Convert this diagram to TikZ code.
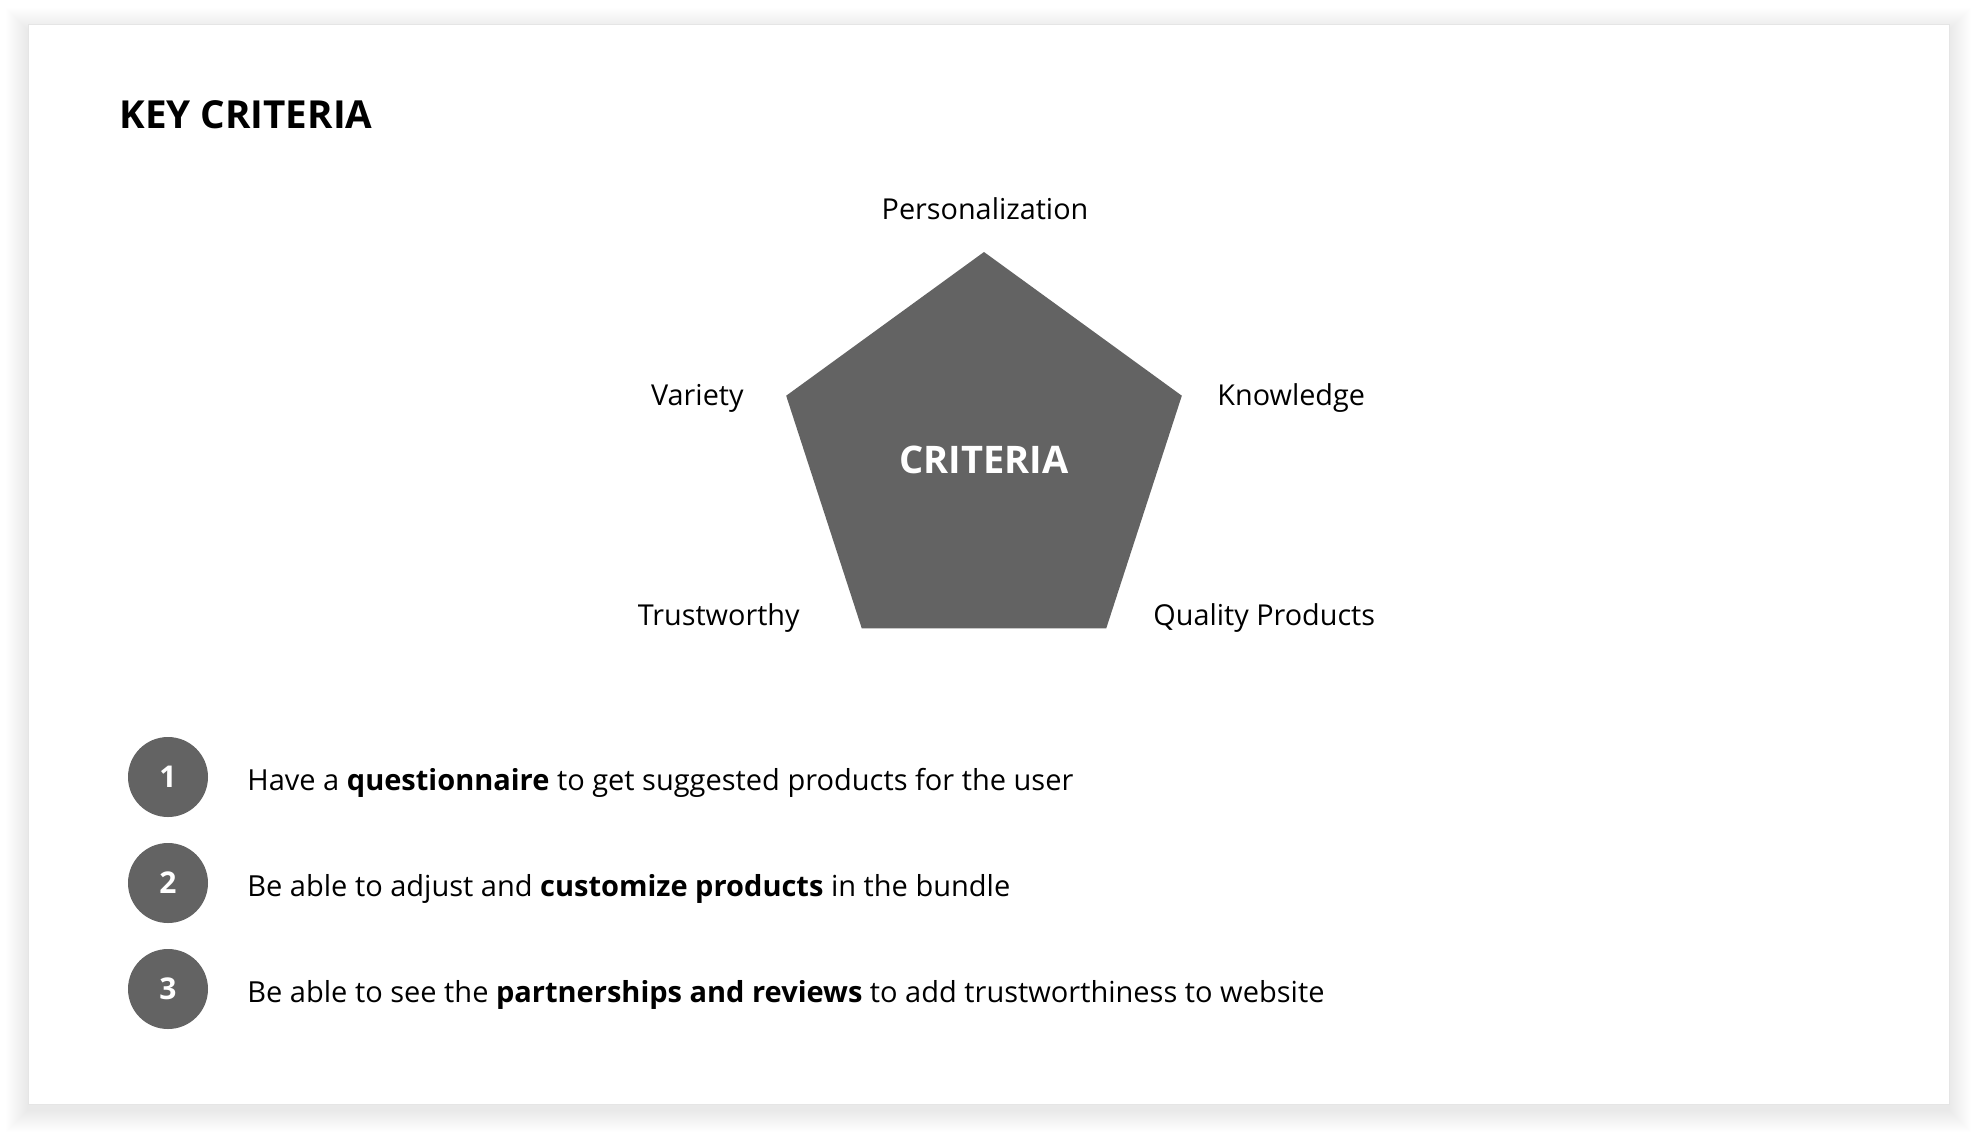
\documentclass[tikz,border=0pt]{standalone}
\usepackage{fontspec}
\setmainfont{Open Sans}
\tikzset{>=latex}
\usetikzlibrary{positioning,shapes.geometric}
\definecolor{critgray}{RGB}{99,99,99}
\tikzset{
  lbl/.style={inner sep=0pt, font=\fontsize{14.4}{16}\selectfont},
  num/.style={circle, fill=critgray, minimum size=40pt, inner sep=0pt, text=white, font=\fontsize{15}{18}\selectfont\bfseries},
  item/.style={anchor=base west, inner sep=0pt, font=\fontsize{14.5}{17}\selectfont},
}

\begin{document}
\begin{tikzpicture}[x=0.5pt,y=-0.5pt]
      \useasboundingbox (0,0) rectangle (1977,1137);
      % soft shadow of the card
      \foreach \i in {1,...,22}
        \fill[black, opacity=0.004] (28-\i,24-\i+6) rectangle (1949+\i,1104+\i+6);
      \draw[draw=black!10, fill=white] (28,24) rectangle (1949,1104);
      \node[anchor=base west, inner sep=0pt, font=\fontsize{19.3}{21}\selectfont\bfseries] (title) at (119,128) {KEY CRITERIA};
      \node[regular polygon, regular polygon sides=5, minimum size=208pt, inner sep=0pt, fill=critgray, text=white, font=\fontsize{19}{21}\selectfont\bfseries] (crit) at (984,460) {CRITERIA};
      \node[lbl, anchor=base] (n1) at (985,219) {Personalization};
      \node[lbl, anchor=base east] (n2) at (744,405) {Variety};
      \node[lbl, anchor=base east] (n3) at (800,625) {Trustworthy};
      \node[lbl, anchor=base west] (n4) at (1153,625) {Quality Products};
      \node[lbl, anchor=base west] (n5) at (1217,405) {Knowledge};
      \node[num] (c1) at (168,777) {1};
      \node[num, below of=c1, node distance=53pt] (c2) {2};
      \node[num, below of=c2, node distance=53pt] (c3) {3};
      \node[item] (t1) at (247,790) {Have a \textbf{questionnaire} to get suggested products for the user};
      \node[item] (t2) at (247,896) {Be able to adjust and \textbf{customize products} in the bundle};
      \node[item] (t3) at (247,1002) {Be able to see the \textbf{partnerships and reviews} to add trustworthiness to website};
    \end{tikzpicture}
\end{document}
